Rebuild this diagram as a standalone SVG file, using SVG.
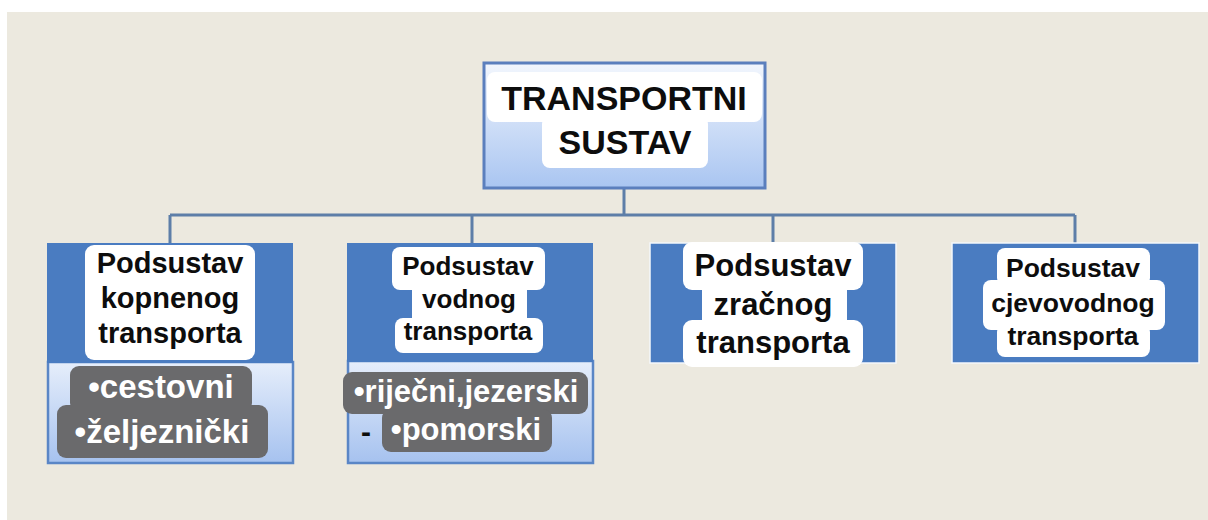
<svg xmlns="http://www.w3.org/2000/svg" width="1208" height="520" viewBox="0 0 1208 520">
<defs>
<linearGradient id="gTop" x1="0" y1="0" x2="0" y2="1">
<stop offset="0" stop-color="#f2f6fd"/>
<stop offset="1" stop-color="#a9c5f1"/>
</linearGradient>
<linearGradient id="gLow" x1="0" y1="0" x2="0" y2="1">
<stop offset="0" stop-color="#e6eefb"/>
<stop offset="1" stop-color="#a6c2ef"/>
</linearGradient>
<style>
.conn{stroke:#5d7ea8;stroke-width:3;fill:none}
.dark{fill:#4a7cc1}
.edge{fill:none;stroke:#f4f7fc;stroke-width:1.5}
.low{fill:url(#gLow);stroke:#5a86c6;stroke-width:2.5}
.wl{fill:#ffffff}
.gl{fill:#6a6a6c}
.t{font-family:"Liberation Sans",Arial,sans-serif;font-weight:bold;fill:#0d0d0d;text-anchor:middle}
.w{font-family:"Liberation Sans",Arial,sans-serif;font-weight:bold;fill:#ffffff;text-anchor:middle}
</style>
</defs>
<rect x="0" y="0" width="1208" height="520" fill="#ffffff"/>
<rect x="7" y="12" width="1201" height="508" fill="#ece9df"/>

<g id="connectors">
<line class="conn" x1="624" y1="188" x2="624" y2="215"/>
<line class="conn" x1="170" y1="215" x2="1075" y2="215"/>
<line class="conn" x1="170" y1="215" x2="170" y2="243"/>
<line class="conn" x1="472" y1="215" x2="472" y2="243"/>
<line class="conn" x1="773" y1="215" x2="773" y2="243"/>
<line class="conn" x1="1075" y1="215" x2="1075" y2="243"/>
</g>

<g id="root">
<rect x="484" y="63" width="281" height="125" fill="url(#gTop)" stroke="#5b7fbd" stroke-width="3"/>
<rect class="wl" x="487" y="72" width="275" height="50" rx="8"/>
<rect class="wl" x="542" y="116" width="166" height="52" rx="8"/>
<text class="t" x="624" y="110" font-size="34">TRANSPORTNI</text>
<text class="t" x="625" y="154" font-size="34">SUSTAV</text>
</g>

<g id="kopneni">
<rect class="low" x="48" y="362" width="245" height="101"/>
<rect class="dark" x="47" y="243" width="246" height="120"/>
<rect class="wl" x="85" y="245" width="170" height="115" rx="9"/>
<text class="t" x="170" y="273" font-size="29">Podsustav</text>
<text class="t" x="170" y="308" font-size="29">kopnenog</text>
<text class="t" x="170" y="343" font-size="29">transporta</text>
<rect class="gl" x="70" y="366" width="182" height="46" rx="9"/>
<rect class="gl" x="57" y="405" width="211" height="53" rx="9"/>
<text class="w" x="161" y="398" font-size="33">•cestovni</text>
<text class="w" x="162" y="443" font-size="33">•željeznički</text>
</g>

<g id="vodni">
<rect class="low" x="348" y="361" width="245" height="102"/>
<rect class="dark" x="347" y="243" width="246" height="119"/>
<rect class="wl" x="392" y="247" width="153" height="43" rx="8"/>
<rect class="wl" x="412" y="284" width="115" height="40" rx="6"/>
<rect class="wl" x="395" y="318" width="148" height="35" rx="8"/>
<text class="t" x="468" y="275" font-size="26">Podsustav</text>
<text class="t" x="469" y="308" font-size="26">vodnog</text>
<text class="t" x="468" y="340" font-size="26">transporta</text>
<rect class="gl" x="343" y="372" width="245" height="42" rx="9"/>
<rect class="gl" x="382" y="409" width="170" height="43" rx="9"/>
<text class="w" x="466" y="402" font-size="31">•riječni,jezerski</text>
<text class="w" x="466" y="440" font-size="31">•pomorski</text>
<text class="t" x="366" y="442" font-size="30">-</text>
</g>

<g id="zracni">
<rect class="dark" x="650" y="243" width="246" height="120"/>
<rect class="edge" x="650" y="243" width="246" height="120"/>
<rect class="wl" x="683" y="242" width="180" height="48" rx="9"/>
<rect class="wl" x="702" y="284" width="145" height="42" rx="6"/>
<rect class="wl" x="683" y="320" width="180" height="47" rx="9"/>
<text class="t" x="773" y="276" font-size="31">Podsustav</text>
<text class="t" x="773" y="315" font-size="31">zračnog</text>
<text class="t" x="773" y="353" font-size="31">transporta</text>
</g>

<g id="cjevovodni">
<rect class="dark" x="952" y="243" width="247" height="120"/>
<rect class="edge" x="952" y="243" width="247" height="120"/>
<rect class="wl" x="997" y="248" width="153" height="38" rx="8"/>
<rect class="wl" x="983" y="280" width="182" height="50" rx="8"/>
<rect class="wl" x="997" y="324" width="153" height="33" rx="8"/>
<text class="t" x="1073" y="277" font-size="26.5">Podsustav</text>
<text class="t" x="1073" y="312" font-size="26.5">cjevovodnog</text>
<text class="t" x="1073" y="345" font-size="26.5">transporta</text>
</g>
</svg>
